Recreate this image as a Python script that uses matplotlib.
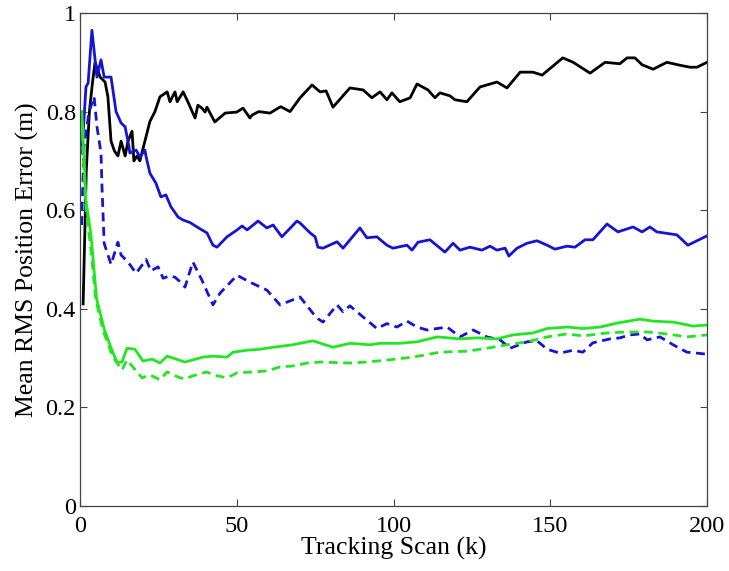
import matplotlib
matplotlib.use("Agg")
from matplotlib import pyplot as plt

# black solid
k_x = [1, 2, 3, 4, 4.8, 6.4, 8, 8.9, 9.9, 11, 12.1, 13.1, 14.4, 15.3, 16.6, 17.2, 18.2, 19.1, 20.7, 22.3,
       23.9, 25.5, 27.8, 28.7, 30.3, 31, 32.9, 34.4, 36.7, 37.6, 38.9, 39.9, 40.5, 43, 46.3, 50, 52, 54.2, 54.9, 57,
       60.6, 64, 67, 70.2, 74, 76.6, 78.5, 80.7, 86.1, 90.3, 93.1, 95.7, 97.9, 99.5, 102, 105.3, 107.5, 111, 113.2, 114.8,
       118, 119.6, 123.4, 127.6, 133, 136.2, 140.4, 144.5, 147.4, 154, 157.3, 162.7, 167.5, 172.2, 174.5,
       177, 179.3, 182.8, 187.2, 191.4, 194.6, 196.8, 200]
k_y = [0.41, 0.68, 0.80, 0.86, 0.90, 0.87, 0.86, 0.83, 0.74, 0.72, 0.71, 0.74, 0.71, 0.74, 0.76, 0.70, 0.71, 0.70, 0.74, 0.78,
       0.80, 0.83, 0.84, 0.82, 0.84, 0.82, 0.84, 0.82, 0.787, 0.813, 0.807, 0.799, 0.809, 0.779, 0.797, 0.799, 0.807, 0.787, 0.793, 0.80,
       0.797, 0.81, 0.80, 0.828, 0.854, 0.840, 0.842, 0.809, 0.848, 0.844, 0.828, 0.840, 0.824, 0.838, 0.820, 0.828, 0.856, 0.844, 0.828, 0.838,
       0.832, 0.824, 0.82, 0.850, 0.86, 0.848, 0.880, 0.880, 0.874, 0.909, 0.900, 0.878, 0.900, 0.897, 0.909,
       0.909, 0.895, 0.886, 0.900, 0.894, 0.890, 0.890, 0.90]

# blue solid
b_x = [0.6, 1.9, 2.6, 3.8, 5.4, 6.7, 7.7, 9.9, 11.5, 13.1, 14.4, 15.6, 15.9, 17.9, 19.1, 20.7, 21.1, 22.3, 24.2, 25.8,
       27.4, 29.0, 31.3, 32.9, 35.1, 37.3, 40.5, 42.4, 43.7, 46.9, 50.1, 51.7, 53.3, 56.8, 59.6, 61.6, 64.4, 69.2, 70.2, 73.4,
       75, 75.9, 77.5, 82, 83.9, 89.3, 91.5, 94.7, 97.9, 99.8, 104.3, 105.9, 107.8, 111.6, 116.4, 119, 121.2, 124.4, 128.2, 130.8,
       133, 135.6, 136.8, 139.4, 142.6, 145.8, 149, 151.5, 155.3, 157.9, 161.1, 163.6, 168.1, 171.6, 176.4, 179.3, 181.8, 184,
       190.4, 193.9, 200]
b_y = [0.716, 0.85, 0.858, 0.965, 0.87, 0.905, 0.87, 0.87, 0.80, 0.777, 0.769, 0.73, 0.716, 0.722, 0.708, 0.722, 0.708, 0.675, 0.655, 0.627,
       0.631, 0.607, 0.586, 0.580, 0.575, 0.566, 0.554, 0.529, 0.525, 0.546, 0.560, 0.568, 0.560, 0.578, 0.564, 0.570, 0.546, 0.578, 0.574, 0.554,
       0.546, 0.525, 0.523, 0.536, 0.523, 0.564, 0.544, 0.546, 0.529, 0.523, 0.529, 0.519, 0.535, 0.540, 0.515, 0.533, 0.519, 0.525, 0.519, 0.527,
       0.519, 0.523, 0.507, 0.523, 0.533, 0.538, 0.529, 0.521, 0.527, 0.525, 0.540, 0.540, 0.572, 0.556, 0.566, 0.556, 0.566, 0.556,
       0.550, 0.529, 0.548]

# blue dashed
bd_x = [0.5, 1.3, 2.9, 4.5, 5.4, 6.7, 7.0, 7.7, 9.9, 12.1, 13.1, 15.3, 17.9, 21.1, 22.6, 24.9, 26.5, 28.7, 30.3, 31.9,
        33.5, 36.0, 38.9, 42.4, 44.7, 50.1, 54.2, 59.6, 63.8, 70.2, 74.3, 75.9, 77.5, 82, 83.9, 86.1, 90, 94.7, 97.9, 101.1,
        104.3, 107.5, 110.7, 117.1, 121.2, 125.4, 129.8, 134, 137.2, 142.6, 145.8, 149, 153.1, 157.3, 160.4, 163.6, 169.1, 172.2,
        175.4, 178.6, 180.9, 185, 189.2, 193.6, 200]
bd_y = [0.57, 0.73, 0.80, 0.83, 0.77, 0.716, 0.65, 0.533, 0.49, 0.535, 0.509, 0.495, 0.472, 0.50, 0.477, 0.485, 0.462, 0.467, 0.464, 0.455,
        0.444, 0.495, 0.458, 0.408, 0.432, 0.468, 0.454, 0.438, 0.408, 0.424, 0.391, 0.38, 0.373, 0.408, 0.394, 0.406, 0.385, 0.36, 0.37, 0.363,
        0.375, 0.363, 0.357, 0.363, 0.343, 0.357, 0.343, 0.337, 0.320, 0.333, 0.335, 0.318, 0.310, 0.316, 0.312, 0.331, 0.339, 0.341,
        0.347, 0.349, 0.337, 0.343, 0.327, 0.312, 0.308]

# green solid
g_x = [0.6, 1.9, 3.5, 5.3, 7.8, 10.2, 11.8, 13.4, 15, 17.5, 20.1, 23, 25.5, 27.8, 33.5, 39.2, 42.4, 46.9, 48.8, 53.3,
       57.4, 61.6, 67.9, 70.2, 74.3, 80.7, 86.1, 92.5, 95.7, 102, 107.5, 113.9, 121.2, 126.6, 133, 138.1, 144.5, 149, 155.3, 160.4,
       165.9, 171.3, 178.6, 182.8, 189.2, 195.5, 200]
g_y = [0.80, 0.62, 0.55, 0.42, 0.357, 0.316, 0.292, 0.292, 0.32, 0.318, 0.294, 0.298, 0.290, 0.304, 0.292, 0.302, 0.304, 0.302, 0.312, 0.316,
       0.318, 0.322, 0.327, 0.33, 0.335, 0.322, 0.33, 0.327, 0.33, 0.33, 0.333, 0.343, 0.339, 0.341, 0.339, 0.347, 0.351, 0.36, 0.363, 0.36,
       0.363, 0.371, 0.379, 0.375, 0.373, 0.365, 0.367]

# green dashed
gd_x = [0.6, 1.9, 3.5, 5.0, 7.3, 10.5, 13.4, 15, 19.8, 22.3, 25.5, 27.8, 31.9, 33.5, 36, 40.5, 42.4, 46.9, 50.1, 55.2,
        59.6, 63.8, 67.9, 72.4, 76.6, 86.1, 91.5, 97.9, 106.2, 114.8, 123.4, 129.8, 136.2, 142.6, 149, 155.3, 160.4, 168.1, 174.5, 180.9,
        187.2, 193.6, 200]
gd_y = [0.76, 0.60, 0.52, 0.42, 0.357, 0.302, 0.276, 0.296, 0.26, 0.266, 0.256, 0.272, 0.260, 0.258, 0.264, 0.272, 0.266, 0.260, 0.270, 0.272,
        0.274, 0.282, 0.284, 0.29, 0.292, 0.29, 0.292, 0.296, 0.302, 0.312, 0.314, 0.320, 0.327, 0.333, 0.343, 0.349, 0.345, 0.351, 0.353, 0.353,
        0.349, 0.343, 0.347]

x_ticks = [0, 50, 100, 150, 200]
y_ticks = [0, 0.2, 0.4, 0.6, 0.8, 1]
y_tick_labels = ['0', '0.2', '0.4', '0.6', '0.8', '1']

plt.rcParams['font.family'] = ['Liberation Serif', 'DejaVu Serif']

fig = plt.figure(figsize=(7.29, 5.71), dpi=100)
ax = fig.add_axes([80 / 729, 65 / 571, 627 / 729, 493 / 571])

blue = '#1414d2'
green = '#22e622'
lw = 2.0
ax.plot(k_x, k_y, color='black', lw=lw)
ax.plot(b_x, b_y, color=blue, lw=lw)
ax.plot(bd_x, bd_y, color=blue, lw=lw, ls=(0, (3.2, 2.0)))
ax.plot(g_x, g_y, color=green, lw=lw)
ax.plot(gd_x, gd_y, color=green, lw=lw, ls=(0, (3.2, 2.0)))

ax.set_xlim(0, 200)
ax.set_ylim(0, 1)
ax.set_xticks(x_ticks)
ax.set_yticks(y_ticks)
ax.set_yticklabels(y_tick_labels)
ax.tick_params(direction='in', length=5, width=0.8, color='#444444', labelsize=17.5,
               top=True, right=True)
ax.tick_params(axis='x', pad=7)
ax.tick_params(axis='y', pad=3)
for s in ax.spines.values():
    s.set_color('#444444')
    s.set_linewidth(0.9)

ax.set_xlabel("Tracking Scan (k)", fontsize=18.5, labelpad=0)
ax.set_ylabel("Mean RMS Position Error (m)", fontsize=18.5, labelpad=5)

plt.savefig('out.png', dpi=100)
